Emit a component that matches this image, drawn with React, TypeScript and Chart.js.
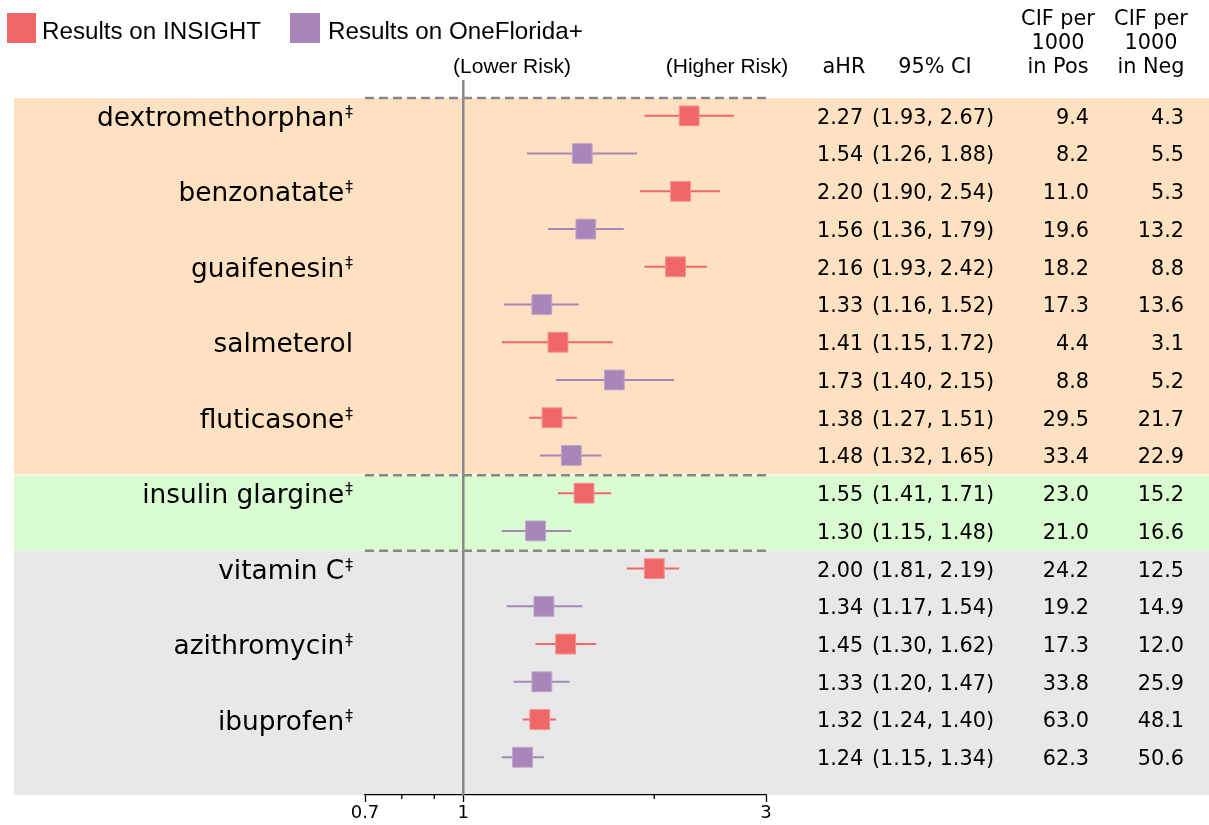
import React, { useEffect, useRef } from 'react';
import { Chart, registerables } from 'chart.js';
Chart.register(...registerables);

const DRUGS = ['dextromethorphan', 'benzonatate', 'guaifenesin', 'salmeterol', 'fluticasone', 'insulin glargine', 'vitamin C', 'azithromycin', 'ibuprofen'];
const DAGGER = [true, true, true, false, true, true, true, true, true];
const GROUP_SIZES = [5, 1, 3];
const GROUP_COLORS = ['#FEE1C1', '#D9FCD1', '#E8E8E8'];

const INSIGHT_HR = [2.27, 2.20, 2.16, 1.41, 1.38, 1.55, 2.00, 1.45, 1.32];
const INSIGHT_LO = [1.93, 1.90, 1.93, 1.15, 1.27, 1.41, 1.81, 1.30, 1.24];
const INSIGHT_HI = [2.67, 2.54, 2.42, 1.72, 1.51, 1.71, 2.19, 1.62, 1.40];
const INSIGHT_POS = ['9.4', '11.0', '18.2', '4.4', '29.5', '23.0', '24.2', '17.3', '63.0'];
const INSIGHT_NEG = ['4.3', '5.3', '8.8', '3.1', '21.7', '15.2', '12.5', '12.0', '48.1'];

const OF_HR = [1.54, 1.56, 1.33, 1.73, 1.48, 1.30, 1.34, 1.33, 1.24];
const OF_LO = [1.26, 1.36, 1.16, 1.40, 1.32, 1.15, 1.17, 1.20, 1.15];
const OF_HI = [1.88, 1.79, 1.52, 2.15, 1.65, 1.48, 1.54, 1.47, 1.34];
const OF_POS = ['8.2', '19.6', '17.3', '8.8', '33.4', '21.0', '19.2', '33.8', '62.3'];
const OF_NEG = ['5.5', '13.2', '13.6', '5.2', '22.9', '16.6', '14.9', '25.9', '50.6'];

const X_TICKS = [0.7, 0.8, 0.9, 1, 2, 3];
const X_TICK_LABELS = [0.7, 1, 3];

const RED = '#EF6767';
const PURPLE = '#A886B9';
const LINE_GRAY = '#888888';
const DEJAVU = '"DejaVu Sans"';
const LIB = '"Liberation Sans", Arial';

const forestPlugin = {
  id: 'forest',
  beforeDraw(chart: any) {
    const ctx = chart.ctx;
    const y = chart.scales.y;
    ctx.save();
    let start = 0;
    GROUP_SIZES.forEach((n, gi) => {
      const top = y.getPixelForValue(start * 2 - 0.5);
      const bottom = gi === GROUP_SIZES.length - 1 ? y.getPixelForValue(y.max) : y.getPixelForValue((start + n) * 2 - 0.5);
      ctx.fillStyle = GROUP_COLORS[gi];
      ctx.fillRect(14, top + 1, chart.width - 14, bottom - top - 1 + (gi === 1 ? 1 : 0));
      start += n;
    });
    ctx.restore();
  },
  beforeDatasetsDraw(chart: any) {
    const ctx = chart.ctx;
    const x = chart.scales.x;
    const y = chart.scales.y;
    const area = chart.chartArea;
    ctx.save();
    ctx.strokeStyle = LINE_GRAY;
    ctx.lineWidth = 2.5;
    ctx.setLineDash([9, 5]);
    let start = 0;
    GROUP_SIZES.forEach((n) => {
      const py = y.getPixelForValue(start * 2 - 0.5) + 1;
      ctx.beginPath();
      ctx.moveTo(area.left, py);
      ctx.lineTo(area.right, py);
      ctx.stroke();
      start += n;
    });
    ctx.setLineDash([]);
    const x1 = x.getPixelForValue(1);
    ctx.lineWidth = 2.5;
    ctx.beginPath();
    ctx.moveTo(x1, 80);
    ctx.lineTo(x1, area.bottom);
    ctx.stroke();
    ctx.lineWidth = 2;
    const bars = (hr: number[], lo: number[], hi: number[], off: number, col: string) => {
      ctx.strokeStyle = col;
      hr.forEach((_, i) => {
        const py = y.getPixelForValue(i * 2 + off);
        ctx.beginPath();
        ctx.moveTo(x.getPixelForValue(lo[i]), py);
        ctx.lineTo(x.getPixelForValue(hi[i]), py);
        ctx.stroke();
      });
    };
    bars(INSIGHT_HR, INSIGHT_LO, INSIGHT_HI, 0, RED);
    bars(OF_HR, OF_LO, OF_HI, 1, PURPLE);
    ctx.strokeStyle = '#000';
    ctx.lineWidth = 1.3;
    X_TICKS.filter((v) => !X_TICK_LABELS.includes(v)).forEach((v) => {
      const px = x.getPixelForValue(v);
      ctx.beginPath();
      ctx.moveTo(px, area.bottom);
      ctx.lineTo(px, area.bottom + 4);
      ctx.stroke();
    });
    ctx.restore();
  },
  afterDraw(chart: any) {
    const ctx = chart.ctx;
    const y = chart.scales.y;
    ctx.save();
    ctx.fillStyle = RED;
    ctx.fillRect(7, 13, 29, 30);
    ctx.fillStyle = PURPLE;
    ctx.fillRect(290, 13, 30, 30);
    ctx.fillStyle = '#000';
    ctx.font = `24.2px ${LIB}`;
    ctx.textBaseline = 'middle';
    ctx.textAlign = 'left';
    ctx.fillText('Results on INSIGHT', 42, 32);
    ctx.fillText('Results on OneFlorida+', 328, 32);
    ctx.font = `21px ${LIB}`;
    ctx.textAlign = 'center';
    ctx.fillText('(Lower Risk)', 512, 67);
    ctx.fillText('(Higher Risk)', 727, 67);
    ctx.font = `20.8px ${DEJAVU}`;
    ctx.fillText('aHR', 844, 68);
    ctx.fillText('95% CI', 935, 68);
    ['CIF per', '1000', 'in Pos'].forEach((t, i) => ctx.fillText(t, 1058, 20 + i * 24));
    ['CIF per', '1000', 'in Neg'].forEach((t, i) => ctx.fillText(t, 1151, 20 + i * 24));
    DRUGS.forEach((d, i) => {
      const py = y.getPixelForValue(i * 2);
      ctx.textAlign = 'right';
      ctx.textBaseline = 'alphabetic';
      let right = 353;
      if (DAGGER[i]) {
        ctx.font = `15.5px ${DEJAVU}`;
        ctx.fillText('\u2021', right, py + 1);
        right -= ctx.measureText('\u2021').width + 1;
      }
      ctx.font = `26.4px ${DEJAVU}`;
      ctx.fillText(d, right, py + 10);
    });
    const rows = (hr: number[], lo: number[], hi: number[], pos: string[], neg: string[], off: number) => {
      hr.forEach((v, i) => {
        const py = y.getPixelForValue(i * 2 + off) + 2.5;
        ctx.font = `20.8px ${DEJAVU}`;
        ctx.textBaseline = 'middle';
        ctx.textAlign = 'left';
        ctx.fillText(v.toFixed(2), 817, py);
        ctx.fillText(`(${lo[i].toFixed(2)}, ${hi[i].toFixed(2)})`, 872, py);
        ctx.textAlign = 'right';
        ctx.fillText(pos[i], 1089, py);
        ctx.fillText(neg[i], 1184, py);
      });
    };
    rows(INSIGHT_HR, INSIGHT_LO, INSIGHT_HI, INSIGHT_POS, INSIGHT_NEG, 0);
    rows(OF_HR, OF_LO, OF_HI, OF_POS, OF_NEG, 1);
    ctx.restore();
  },
};

export default function App() {
  const ref = useRef<HTMLCanvasElement>(null);
  useEffect(() => {
    if (!ref.current) return;
    const chart = new Chart(ref.current, {
      type: 'scatter',
      data: {
        datasets: [
          {
            label: 'Results on INSIGHT',
            data: INSIGHT_HR.map((v, i) => ({ x: v, y: i * 2 })),
            backgroundColor: RED,
            borderColor: '#F59090',
            borderWidth: 1,
            pointStyle: 'rect',
            pointRadius: 14,
          },
          {
            label: 'Results on OneFlorida+',
            data: OF_HR.map((v, i) => ({ x: v, y: i * 2 + 1 })),
            backgroundColor: PURPLE,
            borderColor: '#BFA3CC',
            borderWidth: 1,
            pointStyle: 'rect',
            pointRadius: 14,
          },
        ],
      },
      options: {
        responsive: false,
        animation: false,
        layout: { padding: { left: 365, right: 443, top: 97, bottom: 0 } },
        plugins: { legend: { display: false }, tooltip: { enabled: false } },
        scales: {
          x: {
            type: 'logarithmic',
            min: 0.7,
            max: 3,
            afterBuildTicks: (scale: any) => {
              scale.ticks = X_TICKS.map((v) => ({ value: v }));
            },
            afterFit: (scale: any) => {
              scale.height = 30;
            },
            border: { display: true, color: '#000', width: 1.3 },
            grid: {
              display: true,
              drawOnChartArea: false,
              drawTicks: true,
              tickLength: 7,
              tickWidth: 1.3,
              tickColor: (c: any) => (X_TICK_LABELS.includes(c.tick?.value) ? '#000' : 'rgba(0,0,0,0)'),
            },
            ticks: {
              autoSkip: false,
              maxRotation: 0,
              padding: 1,
              color: '#000',
              font: { family: 'DejaVu Sans', size: 18 },
              callback: (v: any) => (X_TICK_LABELS.includes(Number(v)) ? String(v) : ''),
            },
          },
          y: { type: 'linear', display: false, min: -0.5, max: 18, reverse: true },
        },
      },
      plugins: [forestPlugin],
    });
    return () => chart.destroy();
  }, []);
  return (
    <div style={{ position: 'absolute', left: 0, top: 0, width: 1209, height: 825, background: '#fff' }}>
      <canvas ref={ref} width={1209} height={825} style={{ display: 'block', width: 1209, height: 825 }} />
    </div>
  );
}
